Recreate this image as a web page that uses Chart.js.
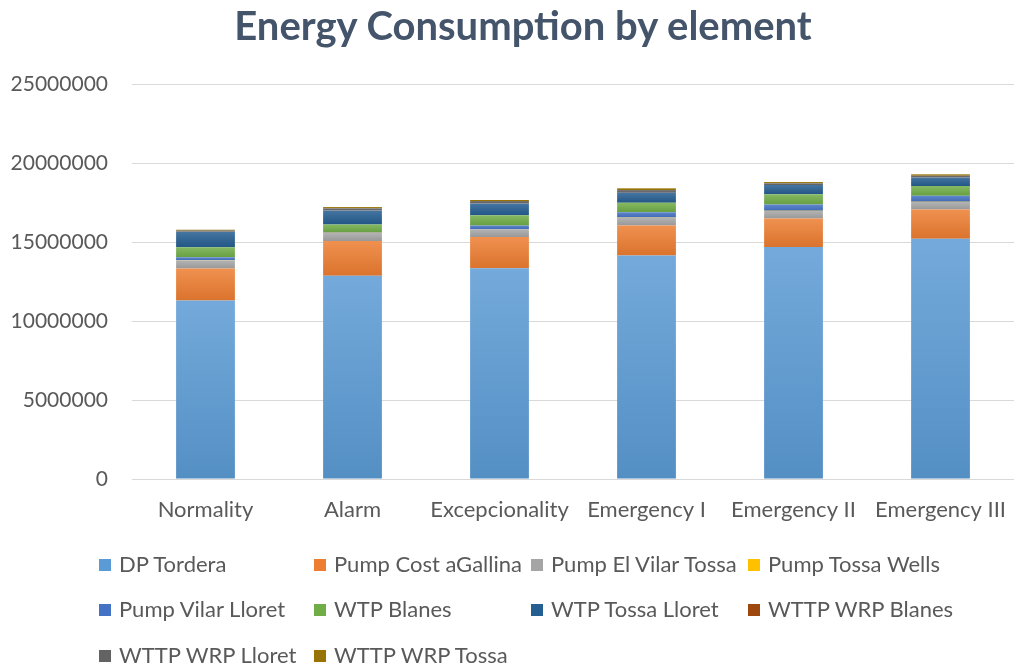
<!DOCTYPE html>
<html>
<head>
<meta charset="utf-8">
<script src="https://cdn.jsdelivr.net/npm/chart.js@4.4.1/dist/chart.umd.min.js"></script>
<style>
    body { margin: 0; background: #fff; overflow: hidden; }
    #wrap { position: relative; width: 1024px; height: 666px; }
    #title { position: absolute; left: 0; top: 0; width: 1046px; text-align: center;
             font-family: Lato, sans-serif; font-weight: bold; font-size: 40px; line-height: 50px; color: #44546A; }
    #legend { position: absolute; left: 0; top: 0; width: 1024px; height: 666px; pointer-events: none; }
    .item { position: absolute; font-family: Lato, sans-serif; font-size: 22px; color: #595959; white-space: nowrap; line-height: 28px; }
    .item i { display: inline-block; width: 12px; height: 12px; margin-right: 8px; vertical-align: 1px; }
</style>
</head>
<body>
<div id="wrap">
    <canvas id="chart" width="1024" height="666"></canvas>
    <div id="title">Energy Consumption by element</div>
    <div id="legend"></div>
</div>
<script>
// Chart data
const categories = ['Normality', 'Alarm', 'Excepcionality', 'Emergency I', 'Emergency II', 'Emergency III'];

const dpTordera        = [11290000, 12860000, 13340000, 14150000, 14680000, 15210000];
const pumpCostAGallina = [2030000, 2200000, 1970000, 1900000, 1800000, 1840000];
const pumpElVilarTossa = [510000, 510000, 490000, 490000, 480000, 480000];
const pumpTossaWells   = [10000, 10000, 10000, 10000, 10000, 10000];
const pumpVilarLloret  = [190000, 30000, 230000, 340000, 410000, 380000];
const wtpBlanes        = [640000, 500000, 660000, 590000, 650000, 620000];
const wtpTossaLloret   = [980000, 890000, 740000, 630000, 570000, 550000];
const wttpWrpBlanes    = [10000, 10000, 10000, 10000, 10000, 10000];
const wttpWrpLloret    = [60000, 120000, 150000, 170000, 110000, 100000];
const wttpWrpTossa     = [60000, 80000, 60000, 110000, 80000, 90000];

const yTicks = [0, 5000000, 10000000, 15000000, 20000000, 25000000];

const series = [
    { label: 'DP Tordera', data: dpTordera, color: '#5B9BD5' },
    { label: 'Pump Cost aGallina', data: pumpCostAGallina, color: '#ED7D31' },
    { label: 'Pump El Vilar Tossa', data: pumpElVilarTossa, color: '#A5A5A5' },
    { label: 'Pump Tossa Wells', data: pumpTossaWells, color: '#FFC000' },
    { label: 'Pump Vilar Lloret', data: pumpVilarLloret, color: '#4472C4' },
    { label: 'WTP Blanes', data: wtpBlanes, color: '#70AD47' },
    { label: 'WTP Tossa Lloret', data: wtpTossaLloret, color: '#255E91' },
    { label: 'WTTP WRP Blanes', data: wttpWrpBlanes, color: '#9E480E' },
    { label: 'WTTP WRP Lloret', data: wttpWrpLloret, color: '#636363' },
    { label: 'WTTP WRP Tossa', data: wttpWrpTossa, color: '#997300' }
];

// lighten / darken a hex colour
function shade(hex, amt) {
    const n = parseInt(hex.slice(1), 16);
    let r = n >> 16, g = (n >> 8) & 255, b = n & 255;
    const f = c => Math.round(amt > 0 ? c + (255 - c) * amt : c * (1 + amt));
    return `rgb(${f(r)},${f(g)},${f(b)})`;
}

// vertical gradient per stacked segment, like the Excel bars
function segmentFill(ctx, s, dsIndex) {
    const chart = ctx.chart;
    const y = chart.scales && chart.scales.y;
    if (!y || ctx.type !== 'data') return s.color;
    let base = 0;
    for (let k = 0; k < dsIndex; k++) base += series[k].data[ctx.dataIndex];
    const top = base + s.data[ctx.dataIndex];
    const y0 = y.getPixelForValue(top), y1 = y.getPixelForValue(base);
    if (!isFinite(y0) || !isFinite(y1) || y1 - y0 < 1) return s.color;
    const g = chart.ctx.createLinearGradient(0, y0, 0, y1);
    g.addColorStop(0, shade(s.color, 0.15));
    g.addColorStop(1, shade(s.color, -0.08));
    return g;
}

const datasets = series.map((s, i) => ({
    label: s.label,
    data: s.data,
    backgroundColor: ctx => segmentFill(ctx, s, i),
    borderWidth: 0,
    barPercentage: 0.8,
    categoryPercentage: 0.5
}));

const ctx = document.getElementById('chart').getContext('2d');
new Chart(ctx, {
    type: 'bar',
    data: { labels: categories, datasets: datasets },
    options: {
        responsive: false,
        animation: false,
        layout: { padding: { left: 0, right: 0, top: 84, bottom: 137 } },
        plugins: {
            legend: { display: false },
            tooltip: { enabled: false },
            title: { display: false }
        },
        scales: {
            x: {
                stacked: true,
                grid: { display: false, drawTicks: false },
                border: { display: false },
                ticks: {
                    color: '#595959',
                    font: { family: 'Lato', size: 22 },
                    padding: 18,
                    maxRotation: 0,
                    autoSkip: false
                },
                afterFit: axis => { axis.height = 50; }
            },
            y: {
                stacked: true,
                min: 0,
                max: 25000000,
                afterBuildTicks: axis => { axis.ticks = yTicks.map(v => ({ value: v })); },
                grid: { color: '#D9D9D9', lineWidth: 1, drawTicks: false },
                border: { display: false },
                ticks: {
                    color: '#595959',
                    font: { family: 'Lato', size: 21 },
                    padding: 24,
                    callback: v => String(v)
                },
                afterFit: axis => { axis.width = 132; }
            }
        }
    }
});

// Legend laid out like the Excel one: 4 columns, 3 rows
const legendCols = [99, 314, 531, 748];
const legendRows = [550, 595, 641];
const legendEl = document.getElementById('legend');
series.forEach((s, i) => {
    const el = document.createElement('div');
    el.className = 'item';
    el.style.left = legendCols[i % 4] + 'px';
    el.style.top = legendRows[Math.floor(i / 4)] + 'px';
    el.innerHTML = `<i style="background:${s.color}"></i>${s.label}`;
    legendEl.appendChild(el);
});
</script>
</body>
</html>
